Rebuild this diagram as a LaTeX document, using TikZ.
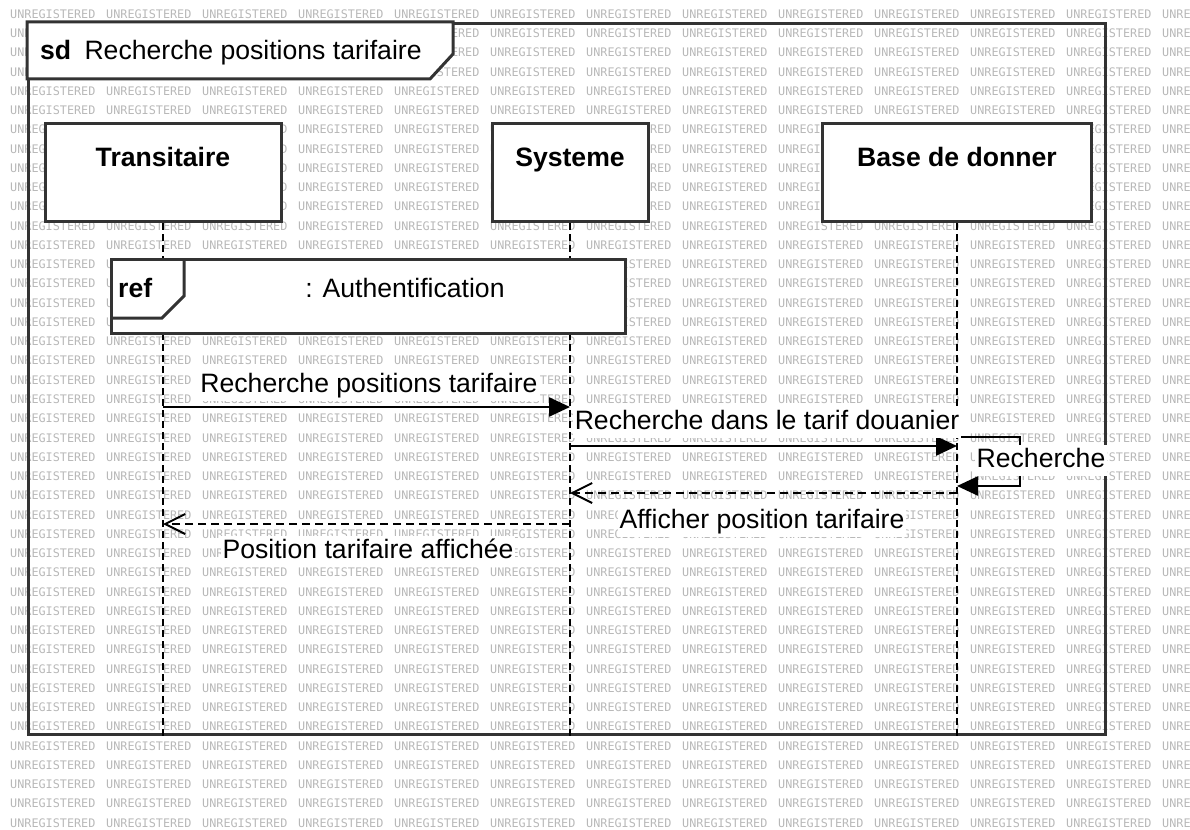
\documentclass[tikz,border=0pt]{standalone}
\usepackage{fontspec}
\setmainfont{Liberation Sans}
\newfontfamily\wmfont{DejaVu Sans Mono}
\usetikzlibrary{arrows.meta,positioning,calc}

\begin{document}
\begin{tikzpicture}[x=1pt,y=-1pt,line join=miter]
	\tikzstyle{every node}=[font=\fontsize{26.6}{30}\selectfont, inner sep=0pt]
	\tikzstyle{wmark}=[font=\wmfont\fontsize{11.8}{12}\selectfont, text=black!28, anchor=west]
	\tikzstyle{boxline}=[draw=black!80, line width=3pt]
	\tikzstyle{lifehead}=[boxline, fill=white, minimum height=98pt, text height=19pt, text depth=31pt, font=\fontsize{26.6}{30}\selectfont\bfseries, anchor=north]
	\tikzstyle{lifeline}=[line width=2pt, dash pattern=on 7pt off 4pt]
	\tikzstyle{msg}=[line width=2.5pt, -{Triangle[length=21pt,width=19pt]}]
	\tikzstyle{reply}=[line width=2pt, dash pattern=on 8pt off 5pt, -{Straight Barb[length=20pt,width=20pt,line width=2pt]}]
	\tikzstyle{lbl}=[fill=white, inner sep=2pt, text height=20pt, text depth=7pt, anchor=base]
	\useasboundingbox (0,0) rectangle (1190,829);
	
	% watermark
	\begin{scope}
		\clip (0,0) rectangle (1190,829);
		\foreach \r in {-1,...,42}
			\foreach \c in {0,...,12}
				\node[wmark] (wm-\r-\c) at (10+96*\c, 14+19.26*\r) {UNREGISTERED};
	\end{scope}
	
	% frame
	\node[boxline, minimum width=1077pt, minimum height=711pt, anchor=north west] (frame) at (27,22) {};
	\draw[boxline, fill=white] (frame.north west) -- ++(0,57) -- ++(403,0) -- ++(23,-25) -- ++(0,-32) -- cycle;
	\node[anchor=base west] (sdtitle) at (40,60) {\textbf{sd}\hspace{0.5em}Recherche positions tarifaire};
	
	% lifelines
	\node[lifehead, minimum width=236pt] (trans) at (163,122) {Transitaire};
	\node[lifehead, minimum width=156pt] (sys) at (570,122) {Systeme};
	\node[lifehead, minimum width=269pt] (base) at (957,122) {Base de donner};
	
	\coordinate (trans-end) at (trans.south |- frame.south);
	\coordinate (sys-end) at (sys.south |- frame.south);
	\coordinate (base-end) at (base.south |- frame.south);
	\draw[lifeline] (trans.south) -- (trans-end);
	\draw[lifeline] (sys.south) -- (sys-end);
	\draw[lifeline] (base.south) -- (base-end);
	
	% ref
	\node[boxline, fill=white, minimum width=514pt, minimum height=74pt, anchor=north west] (authref) at (110,258) {};
	\draw[boxline] (authref.north west) ++(74,0) -- ++(0,38) -- ++(-22,22) -- ++(-52,0);
	\node[anchor=base west, font=\fontsize{26.6}{30}\selectfont\bfseries] (reftag) at (118,297) {ref};
	\node[anchor=base] (authlbl) at (405,297) {: Authentification};
	
	% messages
	\coordinate (t-req) at (trans.south |- 0,407);
	\coordinate (s-req) at (sys.south |- 0,407);
	\coordinate (s-tarif) at (sys.south |- 0,446);
	\coordinate (b-tarif) at (base.south |- 0,446);
	\coordinate (b-self) at (base.south |- 0,437);
	\coordinate (b-back) at (base.south |- 0,486);
	\coordinate (b-aff) at (base.south |- 0,493);
	\coordinate (s-aff) at (sys.south |- 0,493);
	\coordinate (s-pos) at (sys.south |- 0,524);
	\coordinate (t-pos) at (trans.south |- 0,524);
	
	\draw[msg] (t-req) -- (s-req);
	\draw[msg] (s-tarif) -- (b-tarif);
	\draw[msg] (b-self) -- ++(63,0) -- ++(0,49) -- (b-back);
	\draw[reply] (b-aff) -- (s-aff);
	\draw[reply] (s-pos) -- (t-pos);
	
	\node[lbl] (lblreq) at (369,392) {Recherche positions tarifaire};
	\node[lbl] (lbltarif) at (767,429) {Recherche dans le tarif douanier};
	\node[lbl] (lblself) at (1041,467) {Recherche};
	\node[lbl] (lblaff) at (762,528) {Afficher position tarifaire};
	\node[lbl] (lblpos) at (368,558) {Position tarifaire affichée};
\end{tikzpicture}
\end{document}
